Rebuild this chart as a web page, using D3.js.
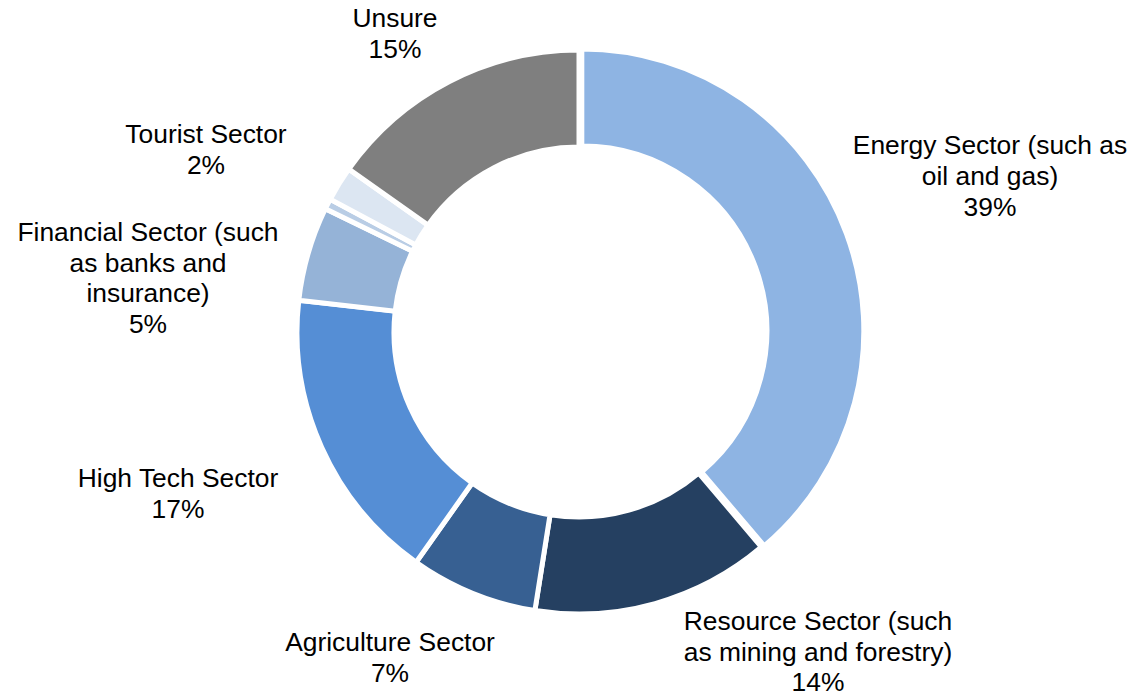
<!DOCTYPE html>
<html>
<head>
<meta charset="utf-8">
<script src="https://cdn.jsdelivr.net/npm/d3@7"></script>
<style>
  html, body { margin: 0; padding: 0; background: #ffffff; }
  svg { display: block; }
  text { font-family: "Liberation Sans", Arial, sans-serif; font-size: 26.4px; fill: #000000; }
</style>
</head>
<body>
<svg id="chart" width="1134" height="698"></svg>
<script>
// ---- data ----
const categories = [
  "Energy Sector (such as oil and gas)",
  "Resource Sector (such as mining and forestry)",
  "Agriculture Sector",
  "High Tech Sector",
  "Financial Sector (such as banks and insurance)",
  "Other",
  "Tourist Sector",
  "Unsure"
];
const values = [38.8, 13.7, 7.3, 17.0, 5.4, 0.6, 2.0, 15.2];
const colors = ["#8EB4E3", "#254061", "#376092", "#558ED5", "#95B3D7", "#B9CDE5", "#DCE6F2", "#7F7F7F"];
// label text lines (null = no label)
const labelLines = [
  ["Energy Sector (such as", "oil and gas)"],
  ["Resource Sector (such", "as mining and forestry)"],
  ["Agriculture Sector"],
  ["High Tech Sector"],
  ["Financial Sector (such", "as banks and", "insurance)"],
  null,
  ["Tourist Sector"],
  ["Unsure"]
];

// ---- layout ----
const W = 1134, H = 698;
const cx = 579, cy = 332, outerR = 282, innerR = 185;
const lineH = 31;
// label block centre x, first-line baseline y, line height
const labelLayout = [
  { x: 990, y: 154, lh: 31 },
  { x: 818, y: 630, lh: 30.5 },
  { x: 390, y: 651, lh: 31 },
  { x: 178, y: 487, lh: 31 },
  { x: 148, y: 241, lh: 30.5 },
  null,
  { x: 206, y: 143, lh: 31 },
  { x: 395, y: 27, lh: 31 }
];

const svg = d3.select("#chart");
const g = svg.append("g").attr("transform", `translate(${cx},${cy})`);

const data = categories.map((c, i) => ({ name: c, value: values[i], color: colors[i], lines: labelLines[i], pos: labelLayout[i] }));

const pie = d3.pie().value(d => d.value).sort(null).startAngle(0).endAngle(2 * Math.PI);
const arc = d3.arc().innerRadius(innerR).outerRadius(outerR);
const arcs = pie(data);

g.selectAll("path.slice")
  .data(arcs)
  .join("path")
  .attr("class", "slice")
  .attr("d", arc)
  .attr("fill", d => d.data.color)
  .attr("stroke", "#ffffff")
  .attr("stroke-width", 5)
  .attr("stroke-linejoin", "miter")
  .attr("transform", (d, i) => {
    if (i !== 0) return null;
    const a = (d.startAngle + d.endAngle) / 2;
    const off = 3;
    return `translate(${Math.sin(a) * off},${-Math.cos(a) * off})`;
  });

// labels
const lab = svg.append("g");
data.forEach(d => {
  if (!d.lines) return;
  const lines = d.lines.concat([Math.round(d.value) + "%"]);
  const t = lab.append("text").attr("text-anchor", "middle");
  lines.forEach((ln, j) => {
    t.append("tspan").attr("x", d.pos.x).attr("y", d.pos.y + j * d.pos.lh).text(ln);
  });
});
</script>
</body>
</html>
